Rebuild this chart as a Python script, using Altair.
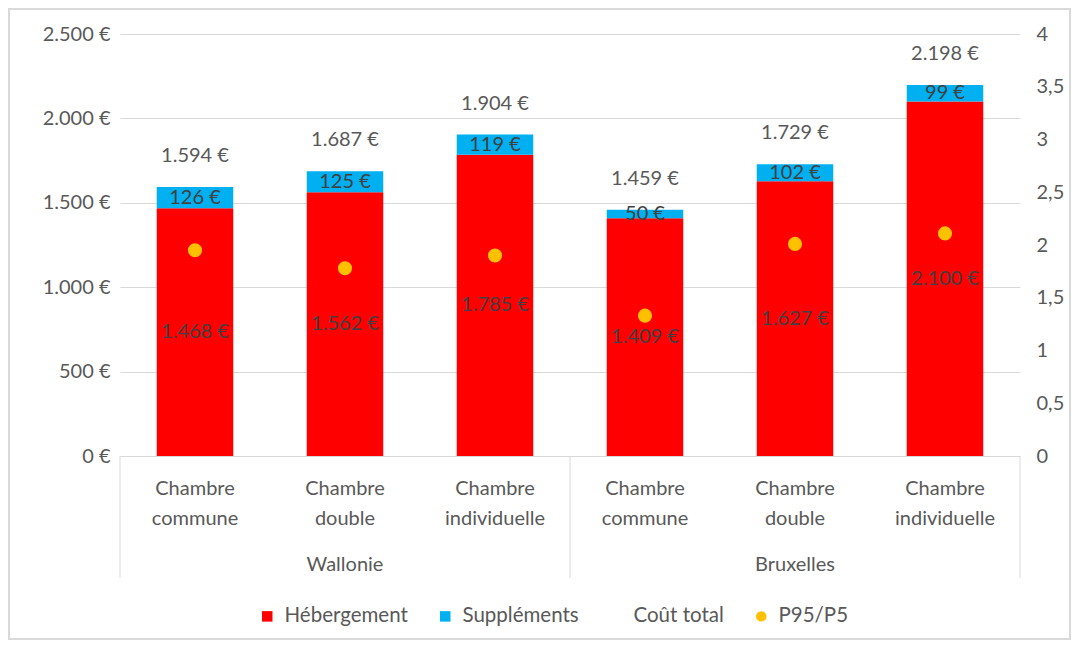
import altair as alt
import pandas as pd

regions = ["Wallonie"] * 3 + ["Bruxelles"] * 3
rooms = ["Chambre commune", "Chambre double", "Chambre individuelle"] * 2
hebergement = [1468, 1562, 1785, 1409, 1627, 2100]
supplements = [126, 125, 119, 50, 102, 99]
cout_total = [1594, 1687, 1904, 1459, 1729, 2198]
p95_p5 = [1.95, 1.78, 1.90, 1.33, 2.01, 2.11]
series = ["Hébergement", "Suppléments", "Coût total", "P95/P5"]


def eur(v):
    return f"{v:,}".replace(",", ".") + " €"


df = pd.DataFrame({
    "key": [r[0] + "|" + c for r, c in zip(regions, rooms)],
    "region": regions,
    "room": rooms,
    "heb": hebergement,
    "sup": supplements,
    "total": cout_total,
    "ratio": p95_p5,
})
df["heb_lbl"] = [eur(v) for v in hebergement]
df["sup_lbl"] = [eur(v) for v in supplements]
df["tot_lbl"] = [eur(v) for v in cout_total]
df["heb_mid"] = df["heb"] / 2
df["sup_mid"] = (df["heb"] + df["total"]) / 2

GREY = "#595959"
LINE = "#d9d9d9"
FS = 20

x_enc = alt.X(
    "key:N",
    sort=list(df["key"]),
    scale=alt.Scale(paddingInner=0.49, paddingOuter=0.245),
    axis=alt.Axis(
        title=None,
        labelAngle=0,
        labelExpr="split(split(datum.label, '|')[1], ' ')",
        labelColor=GREY,
        labelFontSize=FS,
        labelLineHeight=30,
        labelPadding=22,
        labelBaseline="top",
        ticks=False,
        domainColor=LINE,
        domainWidth=1,
        grid=False,
    ),
)

yscale = alt.Scale(domain=[0, 2500], nice=False)
y_left = alt.Y(
    "heb:Q",
    scale=yscale,
    axis=alt.Axis(
        title=None,
        values=[0, 500, 1000, 1500, 2000, 2500],
        labelExpr="replace(format(datum.value, ','), ',', '.') + ' €'",
        labelColor=GREY,
        labelFontSize=FS,
        labelPadding=10,
        ticks=False,
        domain=False,
        grid=True,
        gridColor=LINE,
        gridWidth=1,
    ),
)

base = alt.Chart(df)

bar_heb = base.mark_bar(color="#ff0000").encode(x=x_enc, y=y_left)
bar_sup = base.mark_bar(color="#00b0f0").encode(
    x=x_enc, y=alt.Y("heb:Q", scale=yscale), y2="total:Q"
)
txt_tot = base.mark_text(fontSize=FS, color=GREY, dy=-31).encode(
    x=x_enc, y=alt.Y("total:Q", scale=yscale), text="tot_lbl:N"
)
txt_sup = base.mark_text(fontSize=FS, color="#404040").encode(
    x=x_enc, y=alt.Y("sup_mid:Q", scale=yscale), text="sup_lbl:N"
)
txt_heb = base.mark_text(fontSize=FS, color="#404040").encode(
    x=x_enc, y=alt.Y("heb_mid:Q", scale=yscale), text="heb_lbl:N"
)
txt_reg = base.transform_filter(alt.datum.room == "Chambre double").mark_text(
    fontSize=FS, color=GREY
).encode(x=x_enc, y=alt.value(531), text="region:N")

seps = alt.Chart(pd.DataFrame({"p": [0, 450, 900]})).mark_rule(
    color=LINE, strokeWidth=1
).encode(x=alt.X("p:Q", scale=None), y=alt.value(422), y2=alt.value(544))

border = alt.Chart(pd.DataFrame({"a": [0]})).mark_rect(
    fill=None, stroke=LINE, strokeWidth=2
).encode(x=alt.value(-111), x2=alt.value(950), y=alt.value(-25), y2=alt.value(605))

left = alt.layer(bar_heb, bar_sup, txt_tot, txt_sup, txt_heb, txt_reg, seps, border)

legend_kw = dict(
    title=None,
    orient="none",
    legendX=137,
    legendY=572,
    direction="horizontal",
    columns=4,
    columnPadding=27,
    labelFontSize=20.5,
    labelColor=GREY,
    labelOffset=7,
    symbolSize=110,
    symbolStrokeWidth=0,
)

points = base.transform_calculate(serie="'P95/P5'").mark_point(
    filled=True, opacity=1, size=200
).encode(
    x=x_enc,
    y=alt.Y(
        "ratio:Q",
        scale=alt.Scale(domain=[0, 4], nice=False),
        axis=alt.Axis(
            title=None,
            orient="right",
            values=[0, 0.5, 1, 1.5, 2, 2.5, 3, 3.5, 4],
            labelExpr="replace(toString(datum.value), '.', ',')",
            labelColor=GREY,
            labelFontSize=FS,
            labelPadding=16,
            ticks=False,
            domain=False,
            grid=False,
        ),
    ),
    color=alt.Color(
        "serie:N",
        scale=alt.Scale(domain=series, range=["#ff0000", "#00b0f0", "transparent", "#ffc000"]),
        legend=alt.Legend(**legend_kw),
    ),
    shape=alt.Shape(
        "serie:N",
        scale=alt.Scale(domain=series, range=["square", "square", "square", "circle"]),
        legend=alt.Legend(**legend_kw),
    ),
)

chart = alt.layer(left, points).resolve_scale(y="independent").properties(
    width=900,
    height=422,
    autosize=alt.AutoSizeParams(type="none"),
    padding={"left": 112, "top": 26, "right": 51, "bottom": 185},
).configure(font="Lato").configure_view(stroke=None)

chart.save("out.html", embed_options={"renderer": "svg", "actions": False})
